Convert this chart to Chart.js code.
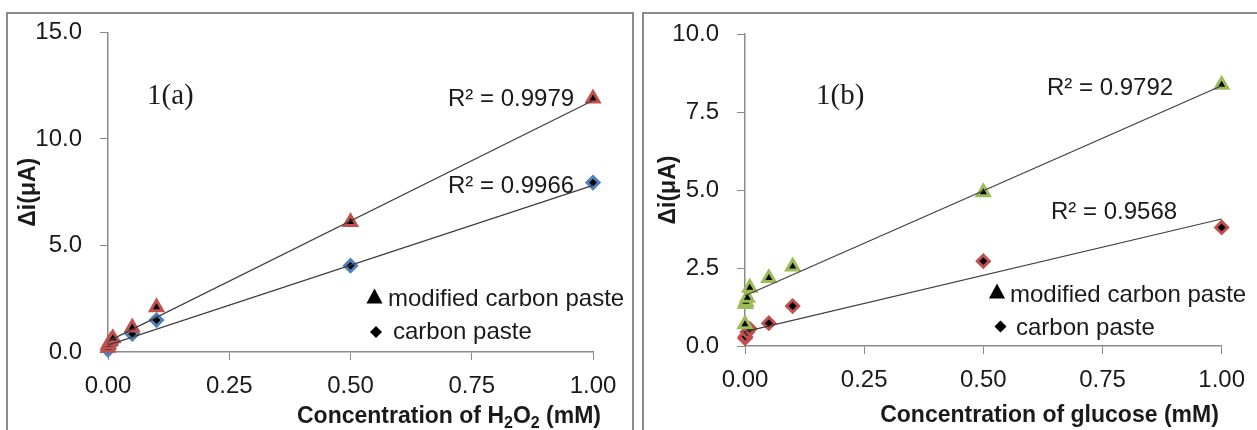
<!DOCTYPE html>
<html>
<head>
<meta charset="utf-8">
<script src="https://cdn.jsdelivr.net/npm/chart.js"></script>
<style>
body { margin:0; width:1257px; height:430px; overflow:hidden; background:#fff; position:relative; }
.box { position:absolute; border:2px solid #8c8c8c; box-sizing:border-box; }
#boxA { left:6px; top:12px; width:628px; height:460px; }
#boxB { left:642px; top:12px; width:640px; height:460px; }
canvas { position:absolute; top:0; }
#chartA { left:0; }
#chartB { left:640px; }
</style>
</head>
<body>
<div class="box" id="boxA"></div>
<div class="box" id="boxB"></div>
<canvas id="chartA" width="640" height="430"></canvas>
<canvas id="chartB" width="617" height="430"></canvas>
<script>
// 1(a) H2O2
var concA = [0, 0.001, 0.005, 0.01, 0.05, 0.1, 0.5, 1.0]
var modifiedA = [0.2, 0.35, 0.5, 0.65, 1.15, 2.1, 6.1, 11.9]
var carbonA = [0.1, 0.2, 0.35, 0.5, 0.85, 1.5, 4.05, 7.95]
var fitModifiedA = [0.5, 11.8]
var fitCarbonA = [0.32, 7.82]
var r2A = ["R² = 0.9979", "R² = 0.9966"]
var yTicksA = [0, 5, 10, 15]

// 1(b) glucose
var concModB = [0, 0.001, 0.002, 0.005, 0.01, 0.05, 0.1, 0.5, 1.0]
var modifiedB = [0.7, 1.35, 1.42, 1.55, 1.87, 2.18, 2.55, 4.93, 8.37]
var concCarbB = [0, 0.001, 0.005, 0.01, 0.05, 0.1, 0.5, 1.0]
var carbonB = [0.25, 0.3, 0.45, 0.55, 0.73, 1.28, 2.72, 3.8]
var fitModifiedB = [1.61, 8.34]
var fitCarbonB = [0.46, 4.07]
var r2B = ["R² = 0.9792", "R² = 0.9568"]
var yTicksB = [0, 2.5, 5, 7.5, 10]

var fitX = [0, 1]
var xTicks = [0, 0.25, 0.5, 0.75, 1]
var legendNames = ["modified carbon paste", "carbon paste"]

var FONT = '"Liberation Sans", Arial, sans-serif'
var RED = '#C0504D', BLUE = '#4F81BD', GREEN = '#9BBB59'

function pts(xs, ys){
    return xs.map(function(x, i){ return {x: x, y: ys[i]} })
}

function markers(label, xs, ys, style, color){
    return {
        label: label, data: pts(xs, ys), pointStyle: style,
        pointRadius: style == 'triangle' ? 7 : 6, borderWidth: 3,
        backgroundColor: '#000', borderColor: color, clip: false
    }
}

function fitLine(ys){
    return { data: pts(fitX, ys), showLine: true, pointRadius: 0, borderColor: '#3f3f3f', borderWidth: 1.2, clip: false }
}

function drawSub(ctx, parts, cx, y){
    var big = 'bold 23px ' + FONT, small = 'bold 16px ' + FONT
    var w = 0
    parts.forEach(function(p){ ctx.font = p[1] ? small : big; w += ctx.measureText(p[0]).width })
    var x = cx - w / 2
    parts.forEach(function(p){
        ctx.font = p[1] ? small : big
        ctx.fillText(p[0], x, p[1] ? y + 5 : y)
        x += ctx.measureText(p[0]).width
    })
}

function tri(ctx, x, y, s){
    ctx.beginPath(); ctx.moveTo(x, y - s); ctx.lineTo(x + s * 0.95, y + s * 0.75); ctx.lineTo(x - s * 0.95, y + s * 0.75); ctx.closePath(); ctx.fill()
}
function dia(ctx, x, y, s){
    ctx.beginPath(); ctx.moveTo(x, y - s); ctx.lineTo(x + s, y); ctx.lineTo(x, y + s); ctx.lineTo(x - s, y); ctx.closePath(); ctx.fill()
}

function texts(c){
    return {
        id: 'texts',
        afterDraw: function(chart){
            var ctx = chart.ctx
            ctx.save()
            ctx.fillStyle = '#1a1a1a'
            ctx.textBaseline = 'alphabetic'
            ctx.textAlign = 'left'
            ctx.font = '29px "Liberation Serif", serif'
            ctx.fillText(c.panel, c.panelPos[0], c.panelPos[1])
            ctx.font = '24px ' + FONT
            ctx.fillText(c.r2[0], c.r2Pos[0][0], c.r2Pos[0][1])
            ctx.fillText(c.r2[1], c.r2Pos[1][0], c.r2Pos[1][1])
            ctx.fillText(legendNames[0], c.leg[0][0], c.leg[0][1])
            ctx.fillText(legendNames[1], c.leg[1][0], c.leg[1][1])
            ctx.fillStyle = '#000'
            tri(ctx, c.legMark[0][0], c.legMark[0][1], 8.5)
            dia(ctx, c.legMark[1][0], c.legMark[1][1], 6)
            ctx.fillStyle = '#1a1a1a'
            drawSub(ctx, c.xTitle, c.xTitlePos[0], c.xTitlePos[1])
            ctx.restore()
        }
    }
}

function makeChart(id, c){
    return new Chart(document.getElementById(id), {
        type: 'scatter',
        data: { datasets: c.datasets },
        options: {
            responsive: false,
            animation: false,
            layout: { padding: { left: 0, top: c.top, right: c.right, bottom: 0 } },
            plugins: { legend: { display: false }, tooltip: { enabled: false } },
            scales: {
                x: {
                    type: 'linear', min: 0, max: 1,
                    afterBuildTicks: function(s){ s.ticks = xTicks.map(function(v){ return {value: v} }) },
                    afterFit: function(s){ s.height = c.xAxisH },
                    grid: { drawOnChartArea: false, tickLength: 8, color: '#8a8a8a' },
                    border: { color: '#8a8a8a', width: 1.5 },
                    ticks: { font: { family: FONT, size: 24 }, color: '#1a1a1a', padding: 12, maxRotation: 0, autoSkip: false,
                             callback: function(v){ return v.toFixed(2) } }
                },
                y: {
                    type: 'linear', min: 0, max: c.yMax,
                    afterBuildTicks: function(s){ s.ticks = c.yTicks.map(function(v){ return {value: v} }) },
                    afterFit: function(s){ s.width = c.yAxisW },
                    grid: { drawOnChartArea: false, tickLength: 8, color: '#8a8a8a' },
                    border: { color: '#8a8a8a', width: 1.5 },
                    ticks: { font: { family: FONT, size: 24 }, color: '#1a1a1a', padding: 18, autoSkip: false,
                             callback: function(v){ return v.toFixed(1) } },
                    title: { display: true, text: 'Δi(μA)', color: '#1a1a1a', font: { family: FONT, size: 23, weight: 'bold' }, padding: { top: 15, bottom: 0 } }
                }
            }
        },
        plugins: [texts(c)]
    })
}

makeChart('chartA', {
    datasets: [
        fitLine(fitModifiedA), fitLine(fitCarbonA),
        markers(legendNames[0], concA, modifiedA, 'triangle', RED),
        markers(legendNames[1], concA, carbonA, 'rectRot', BLUE)
    ],
    top: 28, right: 47, xAxisH: 78, yAxisW: 108, yMax: 15, yTicks: yTicksA,
    panel: '1(a)', panelPos: [147, 104],
    r2: r2A, r2Pos: [[448, 106], [448, 193]],
    leg: [[388, 306], [393, 339]], legMark: [[374.5, 297], [376, 332]],
    xTitle: [['Concentration of H', 0], ['2', 1], ['O', 0], ['2', 1], [' (mM)', 0]], xTitlePos: [449, 423]
})

makeChart('chartB', {
    datasets: [
        fitLine(fitModifiedB), fitLine(fitCarbonB),
        markers(legendNames[0], concModB, modifiedB, 'triangle', GREEN),
        markers(legendNames[1], concCarbB, carbonB, 'rectRot', RED)
    ],
    top: 34, right: 31, xAxisH: 84, yAxisW: 105, yMax: 10, yTicks: yTicksB,
    panel: '1(b)', panelPos: [176, 104],
    r2: r2B, r2Pos: [[407, 95], [411, 219]],
    leg: [[370, 302], [376, 335]], legMark: [[357, 292], [360.5, 326.5]],
    xTitle: [['Concentration of glucose (mM)', 0]], xTitlePos: [409.5, 422]
})
</script>
</body>
</html>
